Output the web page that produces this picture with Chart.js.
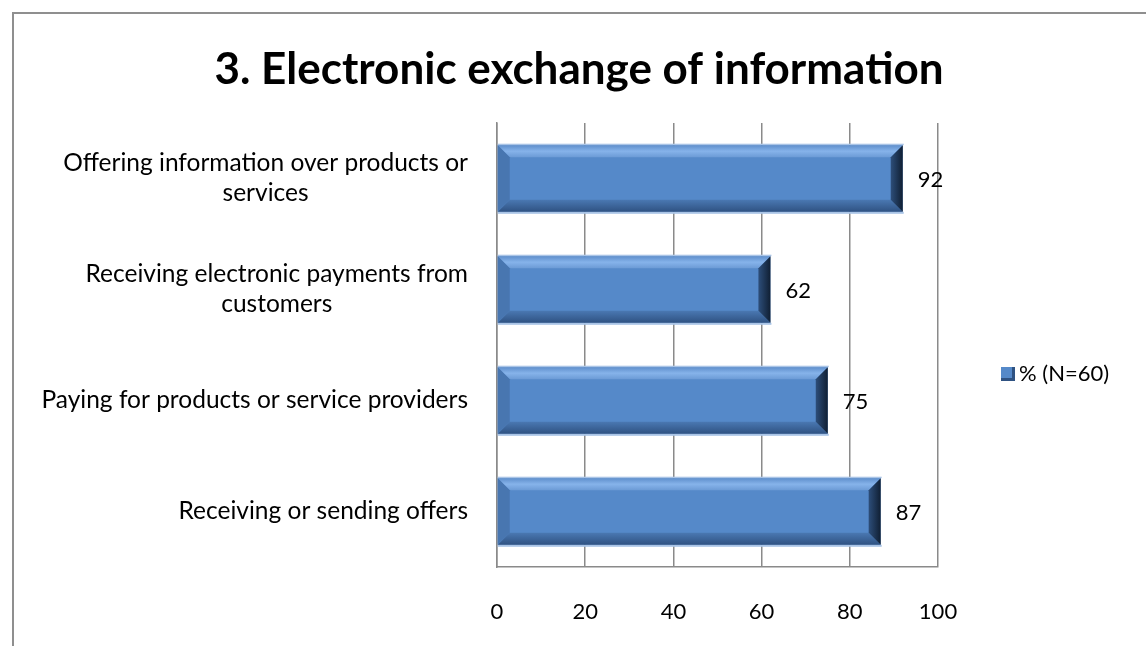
<!DOCTYPE html>
<html>
<head>
<meta charset="utf-8">
<script src="https://cdn.jsdelivr.net/npm/chart.js@4/dist/chart.umd.min.js"></script>
<style>
    body { margin: 0; background: #fff; overflow: hidden; }
    #frame { position: absolute; left: 12px; top: 12px; width: 1300px; height: 800px; border: 2px solid #8f8f8f; }
    #wrap { position: absolute; left: 0; top: 0; width: 1146px; height: 646px; }
</style>
</head>
<body>
<div id="frame"></div>
<div id="wrap"><canvas id="chart" width="1146" height="646"></canvas></div>
<script>
const categories = [
    ['Offering information over products or', 'services'],
    ['Receiving electronic payments from', 'customers'],
    'Paying for products or service providers',
    'Receiving or sending offers'
];
const values = [92, 62, 75, 87];
const xTicks = [0, 20, 40, 60, 80, 100];
const seriesName = '% (N=60)';
const titleText = '3. Electronic exchange of information';

const FONT = 'Lato, "Open Sans", sans-serif';

// bevelled bars, like the office 3D bar look
const bevelBars = {
    id: 'bevelBars',
    afterDatasetsDraw(chart) {
        const ctx = chart.ctx;
        chart.getDatasetMeta(0).data.forEach(bar => {
            const l = bar.base, r = bar.x;
            const t = bar.y - bar.height / 2, b = bar.y + bar.height / 2;
            const k = 12;
            ctx.save();
            // outer light edge
            ctx.fillStyle = '#a9c4e6';
            ctx.fillRect(l, t - 1.5, r - l + 1, 1.5);
            ctx.fillRect(l, b, r - l + 1, 2);
            // top bevel
            let g = ctx.createLinearGradient(0, t, 0, t + k);
            g.addColorStop(0, '#5f8fcc');
            g.addColorStop(0.5, '#86b3ea');
            g.addColorStop(1, '#6c9bd6');
            ctx.fillStyle = g;
            ctx.beginPath();
            ctx.moveTo(l, t); ctx.lineTo(r, t); ctx.lineTo(r - k, t + k); ctx.lineTo(l + k, t + k);
            ctx.closePath(); ctx.fill();
            // bottom bevel
            g = ctx.createLinearGradient(0, b - k, 0, b);
            g.addColorStop(0, '#4a78b2');
            g.addColorStop(1, '#2f5282');
            ctx.fillStyle = g;
            ctx.beginPath();
            ctx.moveTo(l, b); ctx.lineTo(r, b); ctx.lineTo(r - k, b - k); ctx.lineTo(l + k, b - k);
            ctx.closePath(); ctx.fill();
            // left bevel
            ctx.fillStyle = '#4876b0';
            ctx.beginPath();
            ctx.moveTo(l, t); ctx.lineTo(l + k, t + k); ctx.lineTo(l + k, b - k); ctx.lineTo(l, b);
            ctx.closePath(); ctx.fill();
            // right bevel
            g = ctx.createLinearGradient(r - k, 0, r, 0);
            g.addColorStop(0, '#2d4e7a');
            g.addColorStop(1, '#101f33');
            ctx.fillStyle = g;
            ctx.beginPath();
            ctx.moveTo(r, t); ctx.lineTo(r - k, t + k); ctx.lineTo(r - k, b - k); ctx.lineTo(r, b);
            ctx.closePath(); ctx.fill();
            ctx.restore();
        });
    }
};

// values at the end of each bar
const valueLabels = {
    id: 'valueLabels',
    afterDatasetsDraw(chart) {
        const ctx = chart.ctx;
        ctx.save();
        ctx.font = '22px ' + FONT;
        ctx.fillStyle = '#000';
        ctx.textAlign = 'left';
        ctx.textBaseline = 'middle';
        chart.getDatasetMeta(0).data.forEach((bar, i) => {
            ctx.fillText(String(values[i]), bar.x + 15, bar.y + 1);
        });
        ctx.restore();
    }
};

// category labels: right aligned block, lines centred inside it
const categoryLabels = {
    id: 'categoryLabels',
    afterDraw(chart) {
        const ctx = chart.ctx;
        const yScale = chart.scales.y;
        ctx.save();
        ctx.font = '24.5px ' + FONT;
        ctx.fillStyle = '#000';
        ctx.textAlign = 'center';
        ctx.textBaseline = 'middle';
        categories.forEach((cat, i) => {
            const lines = Array.isArray(cat) ? cat : [cat];
            const w = Math.max(...lines.map(s => ctx.measureText(s).width));
            const cx = 468 - w / 2;
            const y = yScale.getPixelForTick(i);
            lines.forEach((s, j) => {
                ctx.fillText(s, cx, y + (j - (lines.length - 1) / 2) * 30);
            });
        });
        ctx.restore();
    }
};

// title and legend
const decorations = {
    id: 'decorations',
    afterDraw(chart) {
        const ctx = chart.ctx;
        ctx.save();
        ctx.font = 'bold 44px ' + FONT;
        ctx.fillStyle = '#000';
        ctx.textAlign = 'center';
        ctx.textBaseline = 'middle';
        ctx.fillText(titleText, 579, 70);

        const bx = 1001, by = 367;
        ctx.fillStyle = '#5589c9';
        ctx.fillRect(bx, by, 14, 14);
        ctx.fillStyle = '#2f5282';
        ctx.fillRect(bx + 11, by, 3, 14);
        ctx.fillRect(bx, by + 11, 14, 3);
        ctx.font = '22px ' + FONT;
        ctx.fillStyle = '#000';
        ctx.textAlign = 'left';
        ctx.fillText(seriesName, 1019, 374);
        ctx.restore();
    }
};

new Chart(document.getElementById('chart'), {
    type: 'bar',
    data: {
        labels: categories,
        datasets: [{
            label: seriesName,
            data: values,
            backgroundColor: '#5589c9',
            borderWidth: 0,
            barPercentage: 0.6,
            categoryPercentage: 1
        }]
    },
    options: {
        indexAxis: 'y',
        responsive: false,
        animation: false,
        layout: { padding: { left: 0, right: 208, top: 123, bottom: 0 } },
        plugins: {
            legend: { display: false },
            tooltip: { enabled: false },
            title: { display: false }
        },
        scales: {
            x: {
                min: 0,
                max: 100,
                afterBuildTicks: scale => { scale.ticks = xTicks.map(v => ({ value: v })); },
                afterFit: scale => { scale.height = 79; },
                ticks: { color: '#000', font: { family: FONT, size: 22 }, padding: 32 },
                grid: { color: '#8a8a8a', lineWidth: 1.5, drawTicks: false },
                border: { color: '#8a8a8a', width: 1.5 }
            },
            y: {
                afterFit: scale => { scale.width = 497; },
                ticks: { color: 'rgba(0,0,0,0)', font: { family: FONT, size: 20 } },
                grid: { display: false },
                border: { color: '#8a8a8a', width: 1.5 }
            }
        }
    },
    plugins: [bevelBars, valueLabels, categoryLabels, decorations]
});
</script>
</body>
</html>
